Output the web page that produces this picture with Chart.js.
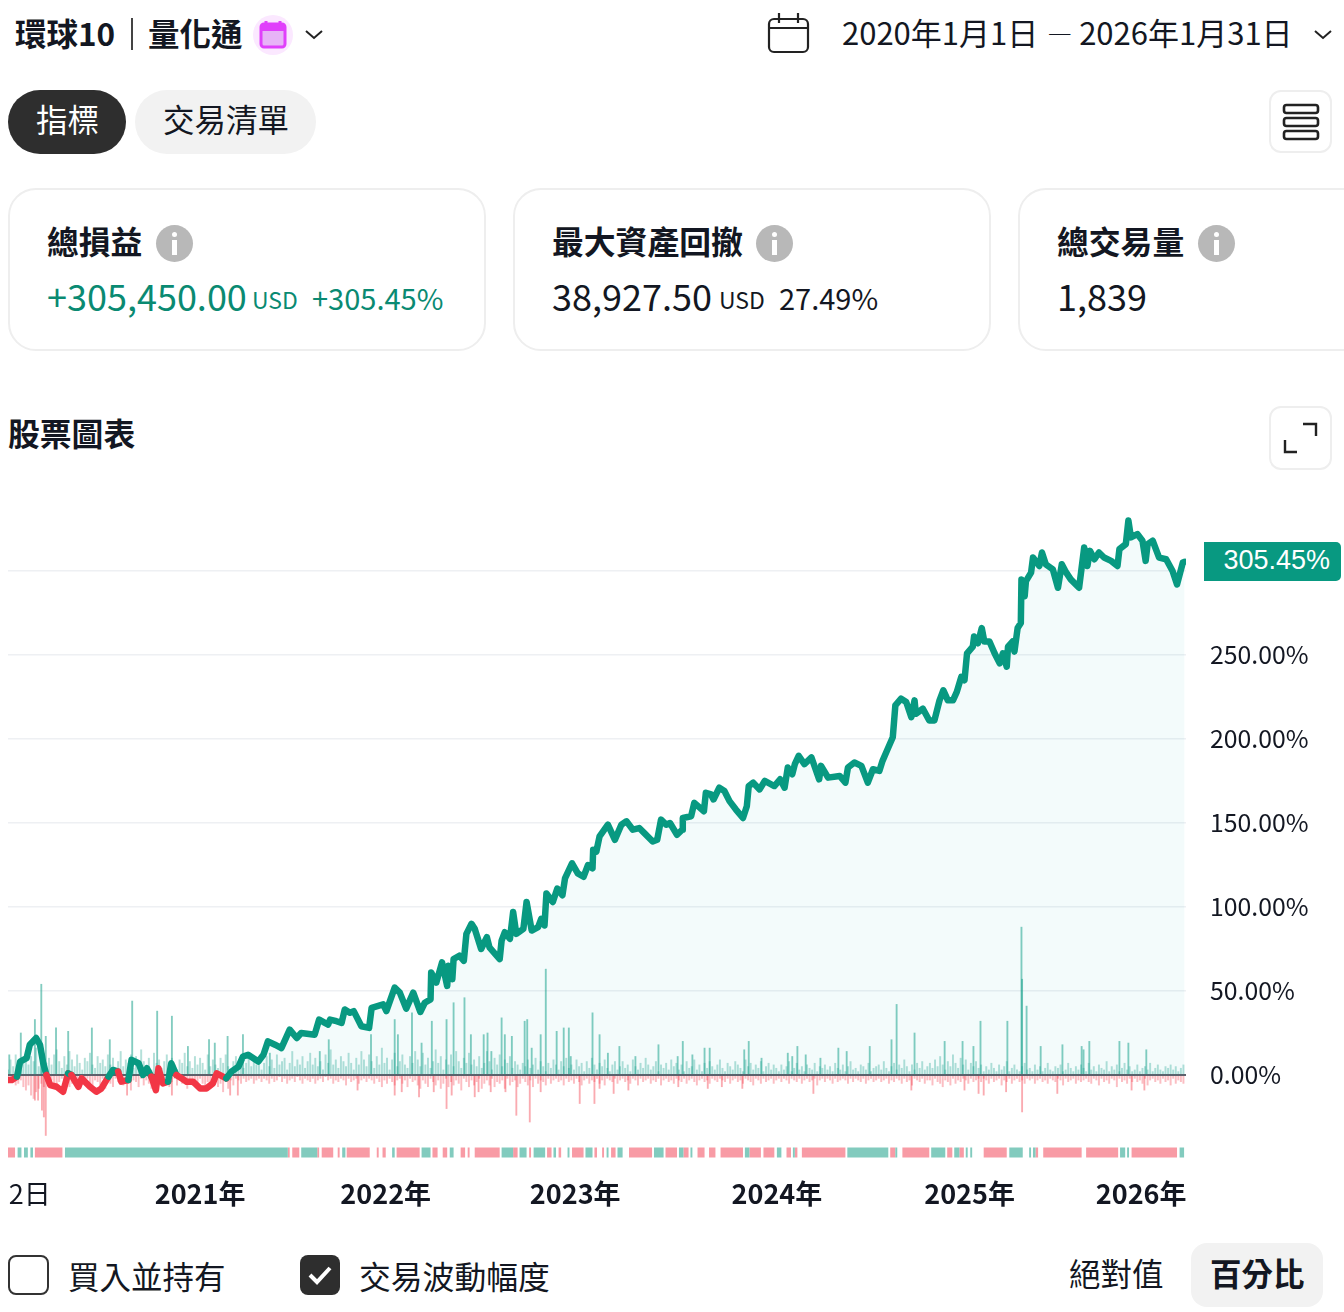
<!DOCTYPE html>
<html lang="zh-Hant"><head><meta charset="utf-8"><title>股票圖表</title>
<script src="https://cdn.jsdelivr.net/npm/chart.js@4"></script>
<style>
html,body{margin:0;padding:0;background:#fff;width:1344px;height:1312px;overflow:hidden}
body{position:relative;font-family:"Noto Sans CJK TC","Noto Sans",sans-serif;color:#131722}
.t{position:absolute;white-space:nowrap;line-height:1;transform:translateY(-50%)}
.b{font-weight:700}
.box{position:absolute;box-sizing:border-box}
.card{border:2px solid #eeeeee;border-radius:28px;top:188px;height:163px;width:478px}
.info{position:absolute;width:37px;height:37px;border-radius:50%;background:#b8b8b8;top:225px}
.info:before{content:"";position:absolute;left:16px;top:7px;width:5px;height:5px;border-radius:50%;background:#fff}
.info:after{content:"";position:absolute;left:16px;top:15px;width:5px;height:15px;background:#fff}
svg{position:absolute;overflow:visible}
#wrap{position:absolute;left:0;top:490px;width:1344px;height:720px}
#badge{position:absolute;left:1204px;width:137px;height:39px;background:#089981;border-radius:0 5px 5px 0;color:#fff;font:27px/37px "Liberation Sans",Arial,sans-serif;text-align:right;padding-right:11px;box-sizing:border-box}
</style></head><body>
<div class="t b" style="left:15px;top:33px;font-size:31.5px">環球10</div>
<div class="box" style="left:131px;top:18px;width:2px;height:32px;background:#444"></div>
<div class="t b" style="left:148px;top:33px;font-size:31.5px">量化通</div>
<div class="box" style="left:253px;top:15px;width:40px;height:40px;border-radius:50%;background:#fbe8ff"></div>
<svg style="left:0;top:0" width="10" height="10"><rect x="261" y="24" width="24" height="23" rx="3" fill="#e7b3f7" stroke="#e040fb" stroke-width="3"/><rect x="261" y="24" width="24" height="7" fill="#e040fb"/><path d="M266 21v5M280 21v5" stroke="#e040fb" stroke-width="3"/>
<path d="M306 31l8 7 8-7" fill="none" stroke="#222" stroke-width="2"/>
<rect x="769" y="19" width="39" height="33" rx="5" fill="none" stroke="#222" stroke-width="2.2"/><path d="M769 28h39M779 13v10M798 13v10" stroke="#222" stroke-width="2.2" fill="none"/>
<path d="M1315 31l8 7 8-7" fill="none" stroke="#222" stroke-width="2"/></svg>
<div class="t" style="left:842px;top:31px;font-size:31px">2020年1月1日 <span style="font-size:25px;position:relative;top:-1px;padding-left:2px">—</span> 2026年1月31日</div>

<div class="box" style="left:8px;top:90px;width:118px;height:64px;border-radius:32px;background:#2e2e2e"></div>
<div class="t" style="left:36px;top:119px;font-size:31.5px;color:#fff">指標</div>
<div class="box" style="left:135px;top:90px;width:181px;height:64px;border-radius:32px;background:#f2f2f2"></div>
<div class="t" style="left:163px;top:119px;font-size:31.5px">交易清單</div>
<div class="box" style="left:1269px;top:90px;width:63px;height:63px;border:2px solid #eeeeee;border-radius:12px"></div>
<svg style="left:0;top:0" width="10" height="10"><g fill="none" stroke="#222" stroke-width="2.6"><rect x="1284" y="105" width="34" height="8" rx="2.5"/><rect x="1284" y="118" width="34" height="8" rx="2.5"/><rect x="1284" y="131" width="34" height="8" rx="2.5"/></g>
<path d="M1303 424h13v12M1297 452h-12v-12" fill="none" stroke="#222" stroke-width="2.4"/></svg>

<div class="box card" style="left:8px"></div>
<div class="t b" style="left:47px;top:241px;font-size:31.8px">總損益</div><div class="info" style="left:156px"></div>
<div class="t" style="left:47px;top:295px;font-size:36px;color:#0a8a72">+305,450.00</div>
<div class="t" style="left:252px;top:299px;font-size:23px;color:#0a8a72">USD</div>
<div class="t" style="left:312px;top:297px;font-size:29px;color:#0a8a72">+305.45%</div>

<div class="box card" style="left:513px"></div>
<div class="t b" style="left:552px;top:241px;font-size:31.8px">最大資產回撤</div><div class="info" style="left:756px"></div>
<div class="t" style="left:552px;top:295px;font-size:36px">38,927.50</div>
<div class="t" style="left:719px;top:299px;font-size:23px">USD</div>
<div class="t" style="left:779px;top:297px;font-size:29px">27.49%</div>

<div class="box card" style="left:1018px;width:400px"></div>
<div class="t b" style="left:1057px;top:241px;font-size:31.8px">總交易量</div><div class="info" style="left:1198px"></div>
<div class="t" style="left:1057px;top:295px;font-size:36px">1,839</div>

<div class="t b" style="left:8px;top:433px;font-size:31.8px">股票圖表</div>
<div class="box" style="left:1269px;top:406px;width:63px;height:64px;border:2px solid #eeeeee;border-radius:12px"></div>

<div id="wrap"><canvas id="c" width="1344" height="720"></canvas></div>
<div id="badge" class="box">305.45%</div>

<div class="box" style="left:8px;top:1255px;width:41px;height:40px;border:2px solid #333;border-radius:8px"></div>
<div class="t" style="left:68px;top:1276px;font-size:31.5px">買入並持有</div>
<div class="box" style="left:300px;top:1255px;width:40px;height:40px;background:#2e2e2e;border-radius:8px"></div>
<svg style="left:0;top:0" width="10" height="10"><path d="M310 1275l7 7 13-14" fill="none" stroke="#fff" stroke-width="4"/></svg>
<div class="t" style="left:359px;top:1276px;font-size:31.8px">交易波動幅度</div>
<div class="t" style="left:1069px;top:1273px;font-size:31.5px">絕對值</div>
<div class="box" style="left:1191px;top:1243px;width:132px;height:64px;border-radius:16px;background:#f2f2f2"></div>
<div class="t b" style="left:1210px;top:1273px;font-size:31.5px">百分比</div>

<script>
const equityTrade=[0,6,14,19,29,34,44,50,55,60,66,76,86,94,99,110,115,128,138,146,157,164,172,177,188,193,204,211,217,224,231,235,242,250,255,263,271,279,289,300,310,320,326,341,349,360,367,375,391,399,406,417,427,440,451,458,479,486,495,500,503,513,521,526,534,540,552,564,568,586,591,604,612,622,633,644,651,660,661,669,678,686,688,694,696,705,712,716,724,729,739,748,752,768,771,776,784,789,794,805,810,818,828,833,838,841,851,858,866,870,881,890,899,906,913,914,919,924,937,948,958,966,976,986,994,1007,1014,1020,1028,1034,1045,1053,1054,1067,1072,1087,1090,1098,1102,1111,1119,1127,1137,1148,1154,1157,1164,1174,1182,1197,1206,1213,1218,1225,1229,1235,1244,1255,1267,1270,1281,1299,1308,1312,1322,1333,1343,1351,1361,1366,1374,1382,1386,1395,1403,1411,1416,1418,1429,1439,1447,1455,1461,1468,1476,1482,1489,1494,1498,1507,1509,1515,1521,1525,1533,1541,1549,1554,1560,1562,1569,1572,1577,1582,1583,1588,1590,1598,1601,1611,1615,1621,1632,1640,1646,1653,1660,1673,1681,1686,1690,1697,1704,1712,1723,1733,1736,1746,1750,1754,1764,1772,1777,1780,1788,1798,1809,1819,1826,1835,1838];
const equityPct=[-3,-3,-1,8,10,18,22,18,7,0,-6,-7,-10,1,0,-7,-2,-7,-10,-8,-1,3,2,-4,-3,9,7,0,4,-1,-9,4,-5,-4,7,0,-2,-4,-4,-8,-8,-5,1,-2,2,5,11,12,8,12,20,18,16,27,22,25,24,33,31,30,33,32,31,39,37,38,29,28,40,42,38,52,49,39.5,49,37.5,43,45,61,55,67,53,65,57,69,71,68,84,90,87,75,82,76,69,80,85,81,97,84,87,103,86,88,93,89,108,103,111,107,117,126,120,118,125,123,134,133,142,149,140,149,151,146,147,144,139,140,152,149,150,143,146,153,154,162,157,168,167,164,171,169,163,158,153,160,172,174,170,175,172,176,171,183,179,185,190,185,189,176,184,177,178,174,183,186,184,174,182,181,187,194,201,220,224,222,213,223,215,218,211,211,223,229,223,223,228,237,235,251,255,261,257,266,258,258,251,245,251,243,255,258,252,266,269,295,285,294,299,308,303,311,304,301,290,304,299,295,290,314,303,312,307,311,308,306,303,313,316,330,320,322,318,306,316,318,308,307,300,292,305,305.45];
const GRASS_STEP=4;
const upGrass=[
3,9,5,12,7,4,10,14,6,11,8,16,5,9,13,7,10,6,12,15,
8,4,11,6,14,9,5,12,7,3,10,8,13,6,4,11,7,9,5,12,
6,10,3,8,14,5,9,7,12,4,11,6,15,8,5,10,3,13,7,9,
4,8,12,5,10,6,3,9,7,13,5,8,4,11,6,10,7,3,12,5,
9,6,4,10,7,12,5,3,8,11,6,9,4,7,13,5,10,6,8,3,
7,11,5,9,4,12,6,8,10,3,7,14,5,9,6,11,4,8,13,6,
10,5,8,3,12,7,15,6,9,4,11,8,5,13,7,3,10,6,14,9,
5,12,8,4,11,6,16,7,10,3,9,13,5,8,12,6,4,11,7,14,
9,5,13,6,10,4,8,15,7,11,3,9,6,12,5,14,8,4,10,7,
13,6,9,5,11,4,7,14,8,3,10,6,12,5,9,7,11,4,8,6,
3,7,5,9,4,6,10,3,8,5,2,7,4,9,6,3,8,5,10,4,
6,3,9,5,7,2,8,4,10,6,3,7,5,9,4,2,6,8,3,5,
8,4,6,2,9,5,3,7,4,10,6,3,5,8,2,6,4,7,3,9,
5,7,3,6,2,8,4,5,9,3,6,2,7,4,8,5,3,6,9,4,
2,7,5,3,8,6,4,2,9,5,7,3,6,4,8,2,5,7,3,6,
4,2,6,3,5,8,2,4,7,3,5,2,6,4,3,7,2,5,4,6,
3,5,2,7,4,3,6,2,5,8,3,4,2,6,5,3,7,2,4,5,
6,3,8,4,2,5,7,3,6,4,9,5,2,6,3,7,4,8,3,5,
7,4,9,5,11,6,3,8,5,12,7,4,10,6,9,3,7,5,8,4,
6,2,5,3,7,4,2,6,3,5,8,2,4,6,3,2,5,7,3,4,
2,6,3,5,2,4,7,3,2,5,4,6,2,3,7,4,2,5,3,6,
4,2,7,3,5,2,6,4,3,8,2,5,3,6,2,4,7,3,5,2,
3,6,2,4,5,3,7,2,4,6,3,2,5,4,6,3,5,2,4,6];
const downGrass=[
2,4,3,6,5,3,7,9,6,12,14,10,8,5,7,4,6,3,5,8,
4,2,6,3,7,5,2,4,8,3,6,2,5,7,3,4,6,2,8,3,
5,7,2,4,3,6,2,5,9,3,4,7,2,6,3,5,8,2,4,6,
3,2,5,7,4,2,6,3,5,2,8,4,6,3,7,2,5,9,4,8,
6,3,7,5,10,4,8,3,6,2,3,5,2,4,3,2,5,3,2,4,
2,3,5,2,4,3,1,4,2,5,3,2,4,1,3,5,2,3,4,2,
5,3,2,4,1,3,2,5,3,4,2,3,6,2,4,3,2,5,3,2,
4,2,3,5,2,4,7,3,5,2,4,6,3,2,5,3,7,2,4,3,
6,8,3,5,7,2,4,6,3,8,5,2,7,4,6,3,5,9,2,4,
7,3,6,4,2,8,5,3,6,2,7,4,5,3,8,2,6,4,3,7,
5,2,4,6,3,7,2,5,3,4,6,2,5,3,2,4,3,6,2,4,
3,5,2,4,6,3,2,5,3,4,2,5,3,6,2,3,4,2,5,3,
2,4,3,5,2,3,6,2,4,3,2,5,3,4,2,6,3,2,4,3,
5,2,3,4,2,5,3,2,4,6,3,2,4,3,5,2,3,4,2,3,
4,2,5,3,2,4,3,5,2,3,4,6,2,3,5,2,4,3,2,5,
3,2,4,2,3,5,2,3,4,2,5,3,2,4,3,2,6,3,2,4,
2,3,5,2,4,3,2,3,5,2,4,2,3,4,2,5,3,2,4,3,
2,4,3,2,5,3,4,2,3,5,2,4,3,6,2,3,4,2,5,3,
3,6,2,4,5,7,3,4,6,2,5,3,4,2,3,5,2,4,3,2,
4,2,3,5,2,4,3,2,6,3,4,2,5,3,2,4,3,5,2,3,
2,5,3,2,4,3,5,2,3,4,2,3,6,2,4,3,2,5,3,4,
3,2,4,5,2,3,6,2,4,3,5,2,3,7,2,4,3,5,2,4,
2,4,3,5,2,6,3,2,4,3,5,2,4,3,6,2,5,3,4,5];
const upSpikeTrade=[2,20,42,52,59,75,94,131,159,194,233,256,281,314,323,343,367,409,487,501,567,604,609,631,646,662,685,696,713,723,743,749,755,771,776,787,807,811,818,832,840,857,868,876,879,913,924,937,955,980,1016,1046,1054,1069,1088,1096,1150,1157,1177,1218,1225,1233,1246,1269,1297,1310,1346,1380,1388,1416,1463,1491,1508,1519,1561,1583,1584,1591,1613,1647,1677,1680,1689,1736,1750,1778];
const upSpikePct=[12,25,33,54,23,28,26,28,21,44,38,35,17,21,19,23,24,13,14,21,24,33,24,37,19,32,33,43,46,24,24,25,14,34,24,23,32,33,16,24,63,26,28,28,11,37,24,13,17,11,18,11,20,12,16,16,15,20,10,13,11,17,12,10,16,14,17,21,42,25,20,20,17,32,32,88,57,41,17,18,17,15,20,20,19,15];
const downSpikeTrade=[42,47,53,56,59,186,256,347,359,546,604,615,642,665,685,693,729,735,754,777,794,815,832,893,916,924,946,969,1047,1093,1115,1147,1258,1411,1494,1516,1524,1559,1584,1639,1755,1775];
const downSpikePct=[-15,-15,-21,-25,-36,-12,-12,-12,-12,-9,-12,-10,-13,-10,-20,-12,-13,-10,-10,-10,-24,-28,-10,-17,-17,-8,-11,-9,-7,-8,-7,-8,-11,-9,-9,-11,-12,-10,-22,-11,-9,-9];
const winRuns=[[15,21],[25,28],[28,31],[35,39],[89,437],[458,483],[522,527],[600,604],[646,660],[690,696],[771,789],[799,810],[821,839],[852,856],[874,877],[902,913],[935,938],[952,960],[1009,1024],[1048,1055],[1066,1069],[1151,1158],[1201,1208],[1226,1229],[1311,1375],[1386,1389],[1442,1464],[1478,1486],[1496,1499],[1503,1506],[1564,1585],[1595,1598],[1601,1605],[1737,1745],[1748,1751],[1830,1837]];
const lossRuns=[[0,11],[42,85],[437,440],[444,455],[483,486],[490,508],[515,518],[529,565],[576,579],[585,590],[607,643],[663,671],[679,686],[707,714],[718,721],[729,768],[789,796],[814,817],[842,849],[860,864],[881,899],[916,920],[928,931],[942,949],[970,1006],[1027,1045],[1055,1063],[1077,1088],[1095,1105],[1113,1148],[1158,1176],[1180,1197],[1216,1223],[1229,1233],[1240,1308],[1378,1386],[1397,1439],[1467,1475],[1486,1493],[1524,1560],[1605,1609],[1617,1677],[1684,1734],[1755,1826]];
const xTickTrade=[34,300,590,886,1201,1502,1770];
const xTickLabel=['2日','2021年','2022年','2023年','2024年','2025年','2026年'];
const yTicks=[0,50,100,150,200,250,300];
const STRIP_LEVEL=-46.1;
const TEAL='#089981',RED='#f23645';

const zip=(xs,ys)=>xs.map((x,i)=>({x,y:ys[i]}));
const runsToPts=r=>r.flatMap(([a,b])=>[{x:a,y:STRIP_LEVEL},{x:b,y:STRIP_LEVEL},{x:b,y:null}]);
const lastPct=equityPct[equityPct.length-1];
const bar=(data,color,thick,order)=>({type:'bar',data,backgroundColor:color,barThickness:thick,grouped:false,order,borderWidth:0});
const strip=(runs,color)=>({type:'line',data:runsToPts(runs),borderColor:color,borderWidth:10,borderCapStyle:'butt',pointRadius:0,spanGaps:false,order:6,fill:false});

const chart=new Chart(document.getElementById('c'),{
 type:'bar',
 data:{datasets:[
  {type:'line',label:'損益',data:zip(equityTrade,equityPct),borderWidth:6.5,borderJoinStyle:'round',borderCapStyle:'round',pointRadius:0,tension:0,order:0,
   borderColor:TEAL,
   segment:{borderColor:c=>((c.p0.parsed.y+c.p1.parsed.y)/2<0?RED:TEAL)},
   fill:{target:{value:0},above:'rgba(20,170,170,0.05)',below:'rgba(0,0,0,0)'}},
  {type:'line',label:'零軸',data:[{x:0,y:0},{x:1840,y:0}],borderColor:'#5d606b',borderWidth:2,pointRadius:0,order:1,fill:false},
  bar(upGrass.map((v,i)=>({x:i*GRASS_STEP,y:v})),'rgba(8,153,129,0.3)',1.3,4),
  bar(downGrass.map((v,i)=>({x:i*GRASS_STEP,y:-v})),'rgba(242,54,69,0.32)',1.3,4),
  bar(zip(upSpikeTrade,upSpikePct),'rgba(8,153,129,0.5)',1.2,3),
  bar(zip(downSpikeTrade,downSpikePct),'rgba(242,54,69,0.42)',1.2,3),
  strip(winRuns,'#82cbbe'),
  strip(lossRuns,'#f89ba5')
 ]},
 options:{
  responsive:false,animation:false,devicePixelRatio:1,
  layout:{padding:{left:8,right:0,top:0,bottom:0}},
  plugins:{legend:{display:false},tooltip:{enabled:false}},
  scales:{
   x:{type:'linear',min:0,max:1840,offset:false,
    grid:{display:false,drawTicks:false},border:{display:false},
    afterBuildTicks:s=>{s.ticks=xTickTrade.map(v=>({value:v}))},
    afterFit:s=>{s.height=40;s.paddingLeft=0;s.paddingRight=0},
    ticks:{autoSkip:false,maxRotation:0,minRotation:0,padding:8,color:'#131722',
     font:c=>({family:'"Noto Sans CJK TC"',size:27,weight:c.index===0?'400':'700'}),
     callback:(v,i)=>xTickLabel[i]}},
   y:{type:'linear',position:'right',min:-56.56,max:348.21,
    grid:{color:'#eef0f3',lineWidth:1.5,drawTicks:false},border:{display:false},
    afterBuildTicks:s=>{s.ticks=yTicks.map(v=>({value:v}))},
    afterFit:s=>{s.width=158;s.paddingTop=0;s.paddingBottom=0},
    ticks:{padding:24,color:'#131722',font:{family:'"Noto Sans CJK TC"',size:24.8},
     callback:v=>v.toFixed(2)+'%'}}
  }
 }
});
const badge=document.getElementById('badge');
badge.style.top=(490+chart.scales.y.getPixelForValue(lastPct)-19.5)+'px';
</script>
</body></html>
